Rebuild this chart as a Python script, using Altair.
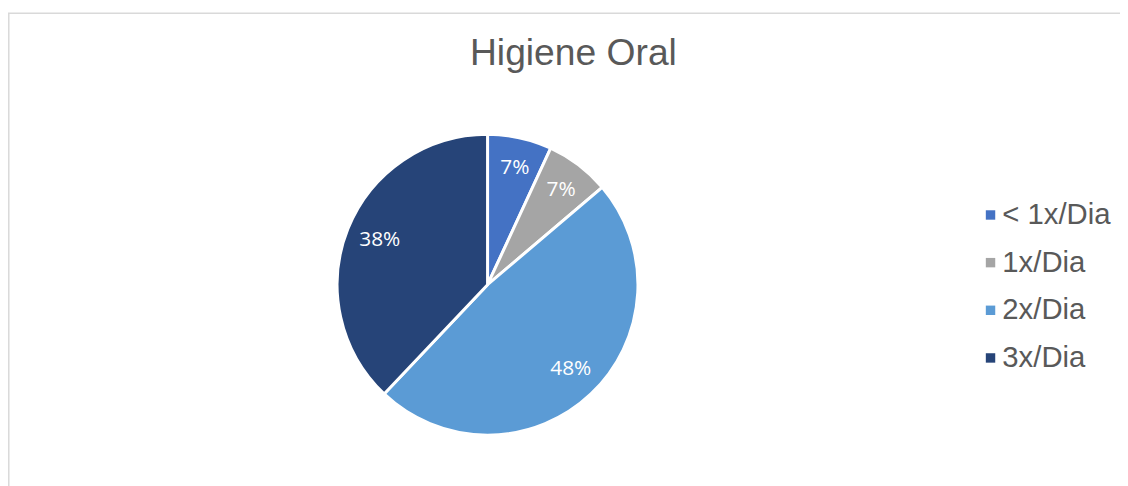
import altair as alt
import pandas as pd

# --- data ---
categories = ["< 1x/Dia", "1x/Dia", "2x/Dia", "3x/Dia"]
counts = [2, 2, 14, 11]
colors = ["#4472C4", "#A5A5A5", "#5B9BD5", "#264478"]
title_text = "Higiene Oral"

total = sum(counts)
df = pd.DataFrame({
    "categoria": categories,
    "n": counts,
    "ordem": list(range(len(categories))),
    "rotulo": [f"{round(c / total * 100)}%" for c in counts],
})

CX, CY = 473, 217
R = 151.5

base = alt.Chart(df).encode(
    theta=alt.Theta("n:Q", stack=True),
    order=alt.Order("ordem:Q"),
    color=alt.Color(
        "categoria:N",
        scale=alt.Scale(domain=categories, range=colors),
        sort=categories,
        legend=alt.Legend(
            title=None,
            orient="none",
            legendX=962,
            legendY=132,
            symbolType="M-0.4,-1H1.6V1H-0.4Z",
            symbolSize=90,
            symbolStrokeWidth=0,
            labelFont="Liberation Sans",
            labelFontSize=29.5,
            labelColor="#595959",
            labelOffset=0,
            rowPadding=17,
            padding=0,
        ),
    ),
)

pie = base.mark_arc(outerRadius=R, stroke="white", strokeWidth=3).encode(
    x=alt.value(CX), y=alt.value(CY)
)

labels = base.mark_text(
    radius=119, font="Open Sans", fontSize=21, align="center", baseline="middle",
    dx=2, dy=-1,
).encode(
    text="rotulo:N",
    x=alt.value(CX),
    y=alt.value(CY),
    color=alt.value("white"),
)

title_df = pd.DataFrame({"t": [title_text]})
title = alt.Chart(title_df).mark_text(
    font="Liberation Sans", fontSize=37.5, color="#595959",
    align="center", baseline="alphabetic",
).encode(text="t:N", x=alt.value(559.5), y=alt.value(-4))

one = alt.Data(values=[{}])
frame_top = alt.Chart(one).mark_rule(color="#D9D9D9", strokeWidth=1.5).encode(
    x=alt.value(-10), x2=alt.value(1200), y=alt.value(-56.5)
)
frame_left = alt.Chart(one).mark_rule(color="#D9D9D9", strokeWidth=1.5).encode(
    x=alt.value(-9.2), y=alt.value(-56.5), y2=alt.value(500)
)

chart = (
    alt.layer(frame_top, frame_left, pie, labels, title)
    .properties(
        width=1110,
        height=418,
        padding={"left": 10, "top": 60, "right": 0, "bottom": 0},
        autosize=alt.AutoSizeParams(type="none"),
    )
    .configure_view(stroke=None)
)

chart.save("out.html", embed_options={"renderer": "svg", "actions": False})
